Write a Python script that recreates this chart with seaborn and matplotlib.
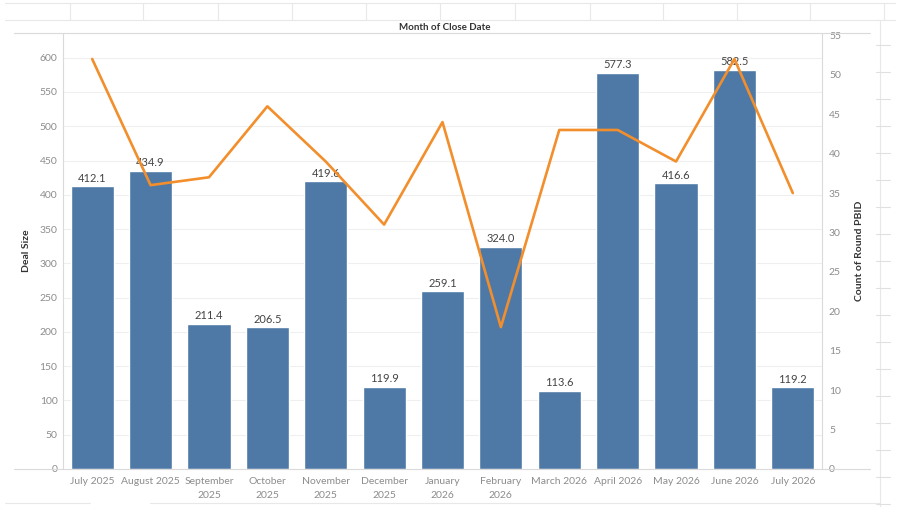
import numpy as np
import pandas as pd
import matplotlib
matplotlib.use("Agg")
import matplotlib.pyplot as plt
from matplotlib.lines import Line2D
import seaborn as sns

months = ["July 2025", "August 2025", "September\n2025", "October\n2025", "November\n2025",
          "December\n2025", "January\n2026", "February\n2026", "March 2026", "April 2026",
          "May 2026", "June 2026", "July 2026"]
deal_size = [412.1, 434.9, 211.4, 206.5, 419.6, 119.9, 259.1, 324.0, 113.6, 577.3, 416.6, 582.5, 119.2]
round_count = [52, 36, 37, 46, 39, 31, 44, 18, 43, 43, 39, 52, 35]

df = pd.DataFrame({"month": months, "deal": deal_size, "count": round_count,
                   "pos": np.arange(len(months))})

sns.set_theme(style="white")
plt.rcParams["font.family"] = ["Lato", "DejaVu Sans"]

W, H = 900, 507
fig = plt.figure(figsize=(9, 5.07), dpi=100)
L, R, T, B = 63, 822, 33, 469
ax = fig.add_axes([L / W, 1 - B / H, (R - L) / W, (B - T) / H])

bar_c = "#4E79A7"
line_c = "#F28E2B"
grid_c = "#EFEFEF"
edge_c = "#DADADA"
tick_c = "#8C8C8C"

sns.barplot(data=df, x="month", y="deal", color=bar_c, width=0.74, ax=ax,
            saturation=1, zorder=2)
ax.set_xlim(-0.5, len(months) - 0.5)
ax.set_ylim(0, 636)
ax.set_yticks(np.arange(0, 601, 50))
ax.yaxis.grid(True, color=grid_c, linewidth=0.8, zorder=0)
ax.set_axisbelow(True)
for s in ax.spines.values():
    s.set_visible(False)
ax.tick_params(axis="both", length=0, labelsize=7.5, labelcolor=tick_c, pad=4)
ax.tick_params(axis="x", pad=6)
for lab in ax.get_xticklabels():
    lab.set_linespacing(1.6)
ax.set_xlabel("")
ax.set_ylabel("Deal Size", fontsize=7.5, color="#333333", fontweight="bold", labelpad=6)

for p, v in zip(ax.patches, deal_size):
    ax.text(p.get_x() + p.get_width() / 2, p.get_height() + 4, f"{v:.1f}",
            ha="center", va="bottom", fontsize=8, color="#444444", zorder=3)

ax2 = ax.twinx()
sns.lineplot(data=df, x="pos", y="count", color=line_c, linewidth=1.9, ax=ax2, zorder=5)
ax2.set_ylim(0, 55.3)
ax2.set_yticks(np.arange(0, 56, 5))
ax2.set_xlim(-0.5, len(months) - 0.5)
for s in ax2.spines.values():
    s.set_visible(False)
ax2.tick_params(axis="y", length=0, labelsize=7.5, labelcolor=tick_c, pad=5)
ax2.set_ylabel("Count of Round PBID", fontsize=7.5, color="#333333", fontweight="bold",
               labelpad=10)
ax2.set_xlabel("")

fig.text(445 / W, 1 - 27 / H, "Month of Close Date", ha="center", va="center",
         fontsize=7, color="#333333", fontweight="bold")

def fl(x0, y0, x1, y1, c=edge_c, lw=0.8):
    fig.add_artist(Line2D([x0 / W, x1 / W], [1 - y0 / H, 1 - y1 / H], color=c, lw=lw))

# header band
fl(5, 3, 895, 3, "#E8E8E8")
fl(5, 20, 895, 20, "#E8E8E8")
for x in [70, 143, 218, 292, 366, 440, 515, 590, 663, 737, 810, 884]:
    fl(x, 3, x, 20, "#E8E8E8")
# plot frame
fl(14, T, 870, T)
fl(14, B, 870, B)
fl(L, T, L, B)
fl(R, T, R, B)
# right column
fl(880, 20, 880, 507, "#E8E8E8")
for y in range(45, 507, 27):
    fl(876, y, 890, y, "#E0E0E0")
fl(5, 503, 90, 503, "#E8E8E8")
fl(150, 503, 880, 503, "#E8E8E8")

fig.savefig("out.png", dpi=100)
